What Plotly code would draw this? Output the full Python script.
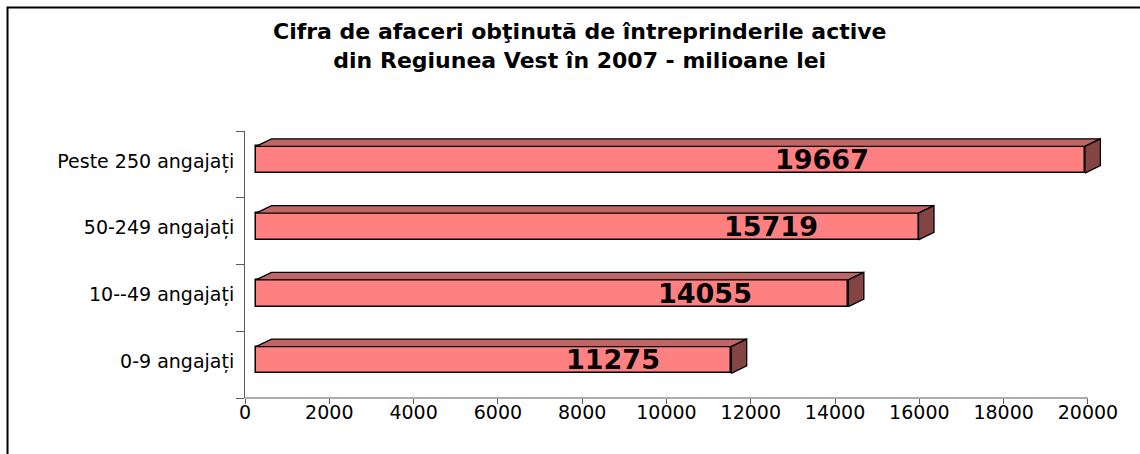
import plotly.graph_objects as go

# ---- data ----
categories = ["0-9 angajați", "10--49 angajați", "50-249 angajați", "Peste 250 angajați"]
values = [11275, 14055, 15719, 19667]
value_labels = ["11275", "14055", "15719", "19667"]
x_ticks = [0, 2000, 4000, 6000, 8000, 10000, 12000, 14000, 16000, 18000, 20000]

title_text = ("Cifra de afaceri obţinută de întreprinderile active<br>"
              "din Regiunea Vest în 2007 - milioane lei")

# ---- style / geometry ----
W, H = 1140, 454
x_axis_max = 20000      # end of the drawn axis line
x_view_max = 20500      # plot area extends a little beyond so 3-D sides are not clipped
px_per_unit = (1088 - 245) / x_axis_max
ML, MT, MB = 245, 131, 56
plot_w = px_per_unit * x_view_max
MR = W - ML - plot_w
plot_h = H - MT - MB
front_shift = 11 / px_per_unit          # bars drawn slightly right of axis origin (3-D look)
depth_x = 15.5 / px_per_unit            # 3-D depth in x units
depth_y = 7.5 / (plot_h / 4.0)          # 3-D depth in category units
bar_w = 0.40
bar_center_shift = 0.07
label_frac = [0.752, 0.758, 0.777, 0.683]   # label position along each bar (fraction of its value)

FRONT = "#FF8080"
TOP = "#C06464"
SIDE = "#844444"
EDGE = "#000000"
AXIS = "#5a5a5a"
FONT = "DejaVu Sans"

fig = go.Figure()

# invisible trace so the main (visible) axis pair exists
fig.add_trace(go.Scatter(x=[None], y=[None], xaxis="x", yaxis="y",
                         mode="markers", hoverinfo="skip", showlegend=False))

# front faces
fig.add_trace(go.Bar(
    x=values, y=list(range(len(values))), orientation="h",
    width=bar_w, offset=bar_center_shift - bar_w / 2,
    marker=dict(color=FRONT, line=dict(color=EDGE, width=1.5)),
    xaxis="x2", yaxis="y", hoverinfo="skip", showlegend=False,
))

# top and side faces built from the values
top_x, top_y, side_x, side_y = [], [], [], []
for i, v in enumerate(values):
    yb = i + bar_center_shift - bar_w / 2
    yt = i + bar_center_shift + bar_w / 2
    top_x += [0, v, v + depth_x, depth_x, 0, None]
    top_y += [yt, yt, yt + depth_y, yt + depth_y, yt, None]
    side_x += [v, v, v + depth_x, v + depth_x, v, None]
    side_y += [yb, yt, yt + depth_y, yb + depth_y, yb, None]

fig.add_trace(go.Scatter(x=top_x, y=top_y, mode="lines", fill="toself",
                         fillcolor=TOP, line=dict(color=EDGE, width=1.3),
                         xaxis="x2", yaxis="y", hoverinfo="skip", showlegend=False))
fig.add_trace(go.Scatter(x=side_x, y=side_y, mode="lines", fill="toself",
                         fillcolor=SIDE, line=dict(color=EDGE, width=1.3),
                         xaxis="x2", yaxis="y", hoverinfo="skip", showlegend=False))

# value labels
for i, (v, t) in enumerate(zip(values, value_labels)):
    fig.add_annotation(x=v * label_frac[i], y=i + bar_center_shift, xref="x2", yref="y",
                       text=f"<b>{t}</b>", showarrow=False,
                       font=dict(family=FONT, size=27, color="#000000"),
                       xanchor="center", yanchor="middle")

# title (positioned in paper coordinates relative to the plot area)
fig.add_annotation(x=(580 - ML) / plot_w, y=(H - MB - 46) / plot_h,
                   xref="paper", yref="paper",
                   text=f"<b>{title_text}</b>", showarrow=False,
                   font=dict(family=FONT, size=22, color="#000000"),
                   xanchor="center", yanchor="middle", align="center")

# x axis line ending at the last tick
fig.add_shape(type="line", xref="x", yref="paper", x0=0, x1=x_axis_max, y0=0, y1=0,
              line=dict(color=AXIS, width=1), layer="above")

# outer frame
fig.add_shape(type="rect", xref="paper", yref="paper",
              x0=(7.5 - ML) / plot_w, x1=(W + 20 - ML) / plot_w,
              y0=-(H + 20 - (H - MB)) / plot_h, y1=(H - MB - 7.5) / plot_h,
              line=dict(color="#000000", width=2), fillcolor="rgba(0,0,0,0)", layer="above")

fig.update_layout(
    width=W, height=H, autosize=False,
    margin=dict(l=ML, r=MR, t=MT, b=MB, pad=0),
    paper_bgcolor="white", plot_bgcolor="white",
    showlegend=False, bargap=0,
    xaxis=dict(range=[0, x_view_max], tickvals=x_ticks, ticktext=[str(t) for t in x_ticks],
               showline=False,
               ticks="outside", ticklen=5, tickcolor=AXIS, ticklabelstandoff=-8,
               showgrid=False, zeroline=False,
               tickfont=dict(family=FONT, size=19, color="#000000"), fixedrange=True),
    xaxis2=dict(range=[-front_shift, x_view_max - front_shift], overlaying="x",
                visible=False, fixedrange=True),
    yaxis=dict(range=[-0.5, 3.5], tickvals=[i + 0.05 for i in range(len(categories))],
               ticktext=categories, ticks="", showline=True, linecolor=AXIS,
               linewidth=1, showgrid=False, zeroline=False,
               ticklabelstandoff=6,
               minor=dict(tickvals=[-0.5, 0.5, 1.5, 2.5, 3.5], ticks="outside",
                          ticklen=8, tickcolor=AXIS, showgrid=False),
               tickfont=dict(family=FONT, size=19, color="#000000"), fixedrange=True),
)

fig.write_html("out.html", config={"displayModeBar": False},
               post_script="document.body.style.margin='0';document.body.style.overflow='hidden';")
